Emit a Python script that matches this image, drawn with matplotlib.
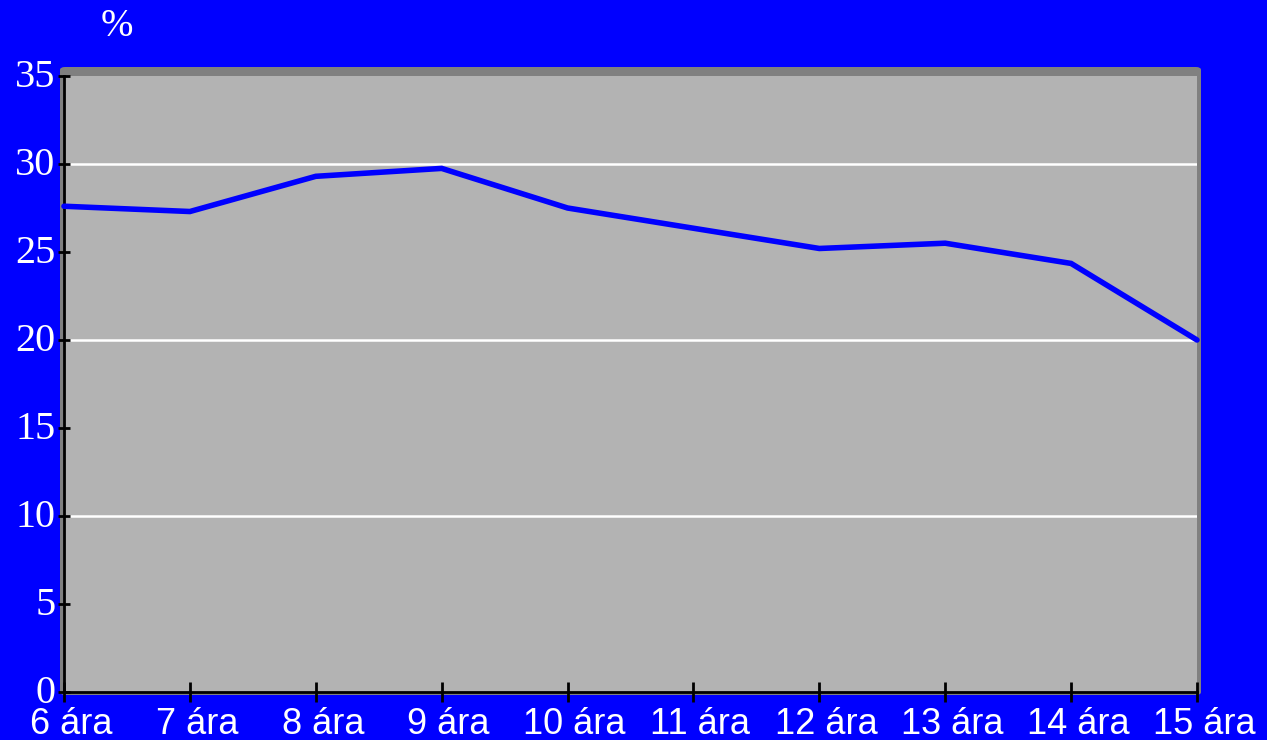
import matplotlib.pyplot as plt
import matplotlib.transforms as mtransforms
from matplotlib.patches import FancyBboxPatch

# adatok
labels = ['6 ára', '7 ára', '8 ára', '9 ára', '10 ára', '11 ára',
          '12 ára', '13 ára', '14 ára', '15 ára']
values = [27.6, 27.3, 29.3, 29.75, 27.5, 26.35, 25.2, 25.5, 24.35, 20.0]
yticks = [0, 5, 10, 15, 20, 25, 30, 35]
gridlines = [10, 20, 30]

W, H = 1267, 740
fig = plt.figure(figsize=(W / 100, H / 100), dpi=100, facecolor='#0000FF')

# 3D-szerű fal keret a rajzterület mögött
x0, x1, y0, y1 = 64, 1197, 692, 76
wall = FancyBboxPatch((60 / W, 1 - 695 / H), (1201 - 60) / W, (695 - 67) / H,
                      boxstyle='round,pad=0,rounding_size=0.004',
                      transform=fig.transFigure, facecolor='#808080',
                      edgecolor='none', zorder=-1)
fig.patches.append(wall)

ax = fig.add_axes([x0 / W, 1 - y0 / H, (x1 - x0) / W, (y0 - y1) / H])
ax.set_zorder(1)
ax.set_facecolor('#B3B3B3')
ax.set_xlim(0, len(labels) - 1)
ax.set_ylim(0, 35)

for g in gridlines:
    ax.axhline(g, color='white', lw=1.8, zorder=1)

ax.plot(range(len(values)), values, color='#0000FF', lw=4,
        solid_capstyle='round', solid_joinstyle='miter', zorder=3,
        clip_on=False)

for s in ['top', 'right']:
    ax.spines[s].set_visible(False)
for s in ['left', 'bottom']:
    ax.spines[s].set_color('black')
    ax.spines[s].set_linewidth(2)

ax.set_yticks(yticks)
ax.set_yticklabels([str(t) for t in yticks], family='Liberation Serif',
                   fontsize=29, color='white')
ax.set_xticks(range(len(labels)))
ax.set_xticklabels(labels, family='Liberation Sans', fontsize=26,
                   color='white')
ax.tick_params(axis='y', direction='inout', length=8, width=2,
               color='black', pad=2)
ax.tick_params(axis='x', direction='inout', length=15, width=2,
               color='black', pad=3)

# a kategóriafeliratok kicsit jobbra, az értékfeliratok kicsit feljebb tolva
dx = mtransforms.ScaledTranslation(7 / 100, 0, fig.dpi_scale_trans)
for lab in ax.get_xticklabels():
    lab.set_transform(lab.get_transform() + dx)
dy = mtransforms.ScaledTranslation(0, 3 / 100, fig.dpi_scale_trans)
for lab in ax.get_yticklabels():
    lab.set_transform(lab.get_transform() + dy)

fig.text(117 / W, 1 - 27 / H, '%', family='Liberation Serif', fontsize=28,
         color='white', ha='center', va='center')

fig.savefig('out.png', dpi=100, facecolor='#0000FF')
